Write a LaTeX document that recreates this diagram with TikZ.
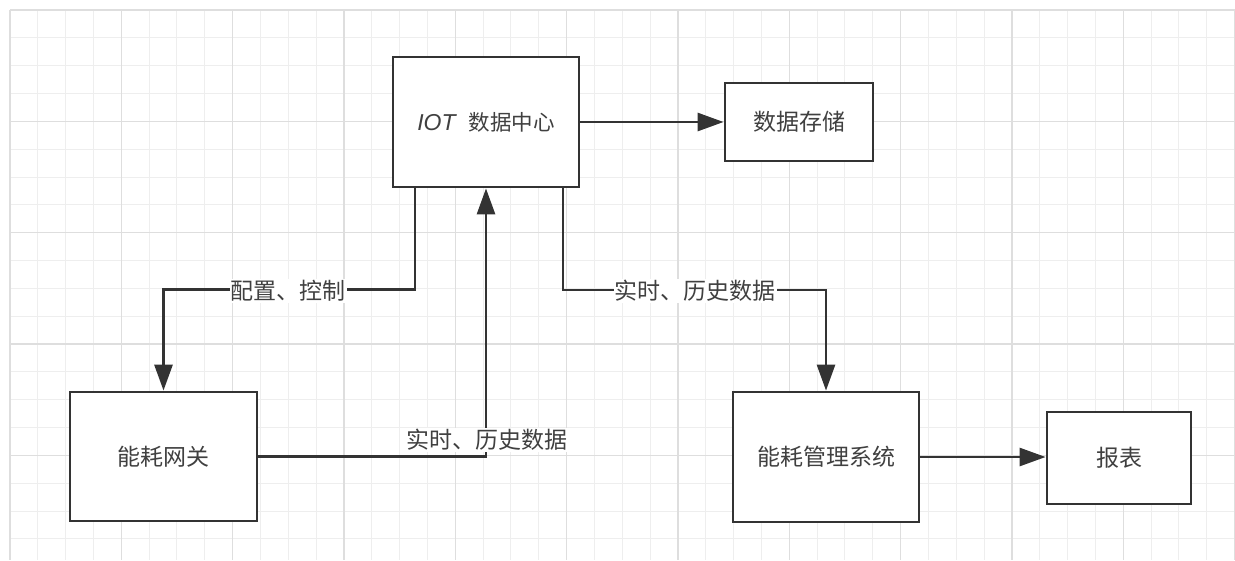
\documentclass[tikz,border=0pt]{standalone}
\usepackage{fontspec}
\setmainfont{Noto Sans CJK SC}
\newfontfamily\latfont{Liberation Sans}
\usetikzlibrary{arrows.meta,calc}
\definecolor{ink}{HTML}{333333}
\definecolor{txt}{HTML}{404040}
\definecolor{gminor}{HTML}{EEEEEE}
\definecolor{gmajor}{HTML}{DEDEDE}
\tikzset{
  box/.style={draw=ink, line width=2.8pt, fill=white, text=txt, inner sep=0pt,
              font=\fontsize{23}{26}\selectfont},
  conn/.style={draw=ink, line width=2.8pt, -{Triangle[length=26pt,width=18pt]}},
  lbl/.style={fill=white, text=txt, inner sep=1pt, font=\fontsize{23}{26}\selectfont},
  gmin/.style={draw=gminor, line width=1pt},
  gmaj/.style={draw=gmajor, line width=1.5pt},
}
\begin{document}
\begin{tikzpicture}[x=1pt,y=-1pt]
\useasboundingbox (0,0) rectangle (1235,560);
\clip (0,0) rectangle (1235,560);
% grid: minor
\foreach \i in {0,...,44}{
  \draw[gmin] ({10+27.833*\i},10) -- ({10+27.833*\i},560);
}
\foreach \j in {0,...,20}{
  \draw[gmin] (10,{10+27.833*\j}) -- (1235,{10+27.833*\j});
}
% grid: major
\foreach \i in {0,...,11}{
  \draw[gmaj] ({10+111.333*\i},10) -- ({10+111.333*\i},560);
}
\foreach \j in {0,...,5}{
  \draw[gmaj] (10,{10+111.333*\j}) -- (1235,{10+111.333*\j});
}
% nodes
\node[box, minimum width=186pt, minimum height=130pt, font=\fontsize{21.5}{24}\selectfont] (iot) at (486,122)
  {{\latfont\itshape\fontsize{23}{26}\selectfont IOT}\hspace{13pt}数据中心};
\node[box, minimum width=148pt, minimum height=78pt] (store) at (799,122) {数据存储};
\node[box, minimum width=187pt, minimum height=129pt] (gw) at (163.5,456.5) {能耗网关};
\node[box, minimum width=186pt, minimum height=130pt] (ems) at (826,457) {能耗管理系统};
\node[box, minimum width=144pt, minimum height=92pt] (report) at (1119,458) {报表};
% connectors
\coordinate (k1) at (415,289.5);
\coordinate (k2) at (563,290);
\draw[conn] (iot.east) -- (iot.east -| store.west);
\draw[conn] (ems.east) -- (ems.east -| report.west);
\draw[conn] (iot.south -| k1) -- (k1) -| (gw.north);
\draw[conn] (gw.east) -| (iot.south);
\draw[conn] (iot.south -| k2) -- (k2) -| (ems.north);
% labels
\node[lbl] (l1) at (288,291) {配置、控制};
\node[lbl] (l2) at (486.5,440) {实时、历史数据};
\node[lbl] (l3) at (695,291) {实时、历史数据};
\end{tikzpicture}
\end{document}
